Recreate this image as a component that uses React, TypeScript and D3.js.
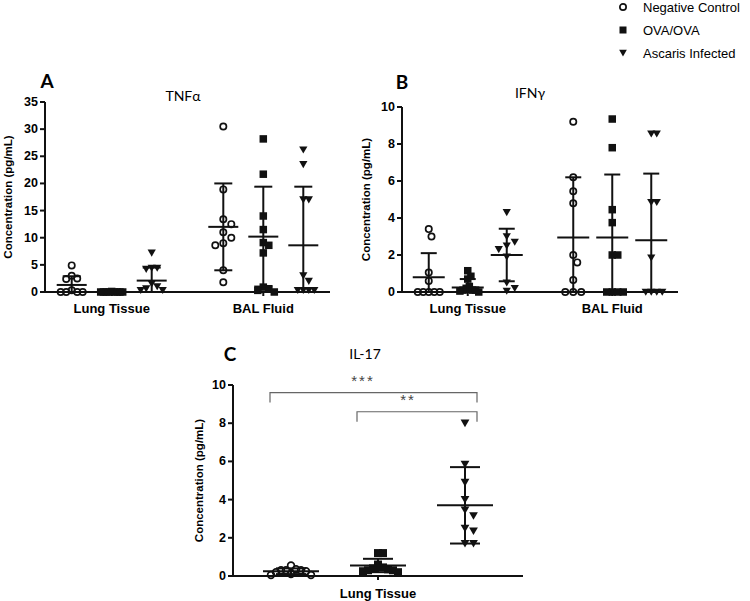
import React from "react";
import * as d3 from "d3";

// groups and categories
const groups = ["Negative Control", "OVA/OVA", "Ascaris Infected"];
const tissues = ["Lung Tissue", "BAL Fluid"];

// TNFα (pg/mL)
const tnfLungNC = [4.9, 3.0, 2.5, 2.4, 0.3, 0, 0, 0, 0];
const tnfLungOVA = [0.1, 0, 0, 0, 0, 0, 0, 0, 0];
const tnfLungAsc = [7.2, 4.4, 4.4, 4.2, 1.5, 1.0, 0.6, 0.3, 0.3];
const tnfBalNC = [30.5, 18.9, 13.4, 12.5, 11.0, 10.0, 9.0, 8.6, 4.0, 1.8];
const tnfBalOVA = [28.2, 21.7, 14.0, 11.5, 9.1, 8.6, 7.2, 0.9, 0.6, 0.3, 0];
const tnfBalAsc = [26.2, 23.5, 17.0, 17.0, 3.0, 2.0, 0.3, 0.3, 0.3, 0.3];
const tnfMean = [1.3, 0, 2.1, 12.0, 10.2, 8.6];
const tnfSD = [1.6, 0, 2.4, 8.0, 9.2, 10.8];

// IFNγ
const ifnLungNC = [3.4, 3.0, 1.05, 0.6, 0, 0, 0, 0, 0];
const ifnLungOVA = [1.15, 0.85, 0.7, 0.3, 0.2, 0.1, 0.1, 0.1, 0.05, 0];
const ifnLungAsc = [4.3, 3.0, 2.7, 2.5, 2.3, 1.9, 0.5, 0.2, 0.05];
const ifnBalNC = [9.2, 6.2, 5.45, 4.8, 2.0, 1.6, 0.65, 0, 0, 0];
const ifnBalOVA = [9.35, 7.8, 4.45, 3.75, 2.0, 2.0, 0, 0, 0, 0];
const ifnBalAsc = [8.55, 8.55, 4.85, 4.85, 1.85, 0, 0, 0, 0];
const ifnMean = [0.8, 0.25, 2.0, 2.95, 2.95, 2.8];
const ifnSD = [1.3, 0.45, 1.42, 3.25, 3.4, 3.6];

// IL-17
const il17NC = [0.55, 0.35, 0.3, 0.3, 0.3, 0.25, 0.2, 0.1, 0.05, 0.05];
const il17OVA = [1.2, 1.2, 0.6, 0.45, 0.4, 0.35, 0.3, 0.3, 0.25, 0.2];
const il17Asc = [8.0, 5.85, 4.9, 4.0, 3.45, 3.15, 2.5, 2.35, 1.7, 1.7];
const il17Mean = [0.25, 0.55, 3.7];
const il17SD = [0.15, 0.35, 2.0];

const FONT = "'Liberation Sans', Arial, sans-serif";
const TITLE_FONT = "Lato, 'Open Sans', sans-serif";

type Series = { tissue: string; group: number; values: number[]; mean: number; sd: number };

function build(cats: string[], vals: number[][], means: number[], sds: number[]): Series[] {
  const out: Series[] = [];
  cats.forEach((c, ci) => {
    groups.forEach((g, gi) => {
      const k = ci * 3 + gi;
      out.push({ tissue: c, group: gi, values: vals[k], mean: means[k], sd: sds[k] });
    });
  });
  return out;
}

// simple beeswarm: offsets so markers don't overlap, squeezed into +-limit
function swarm(values: number[], y: (v: number) => number, d: number, limit: number) {
  const placed: { x: number; y: number }[] = [];
  const order = values.map((_, i) => i).sort((a, b) => values[b] - values[a]);
  const offs = new Array(values.length).fill(0);
  for (const i of order) {
    const py = y(values[i]);
    for (let k = 0; k < 60; k++) {
      const off = k === 0 ? 0 : (k % 2 ? 1 : -1) * Math.ceil(k / 2) * d * 0.5;
      if (placed.every((p) => Math.hypot(p.x - off, p.y - py) >= d * 0.98)) {
        offs[i] = off;
        placed.push({ x: off, y: py });
        break;
      }
    }
  }
  const m = d3.max(offs, (o) => Math.abs(o)) || 0;
  const k = m > limit ? limit / m : 1;
  return offs.map((o) => o * k);
}

function Marker({ g, x, y, s }: { g: number; x: number; y: number; s: number }) {
  if (g === 0) return <circle cx={x} cy={y} r={s * 0.42} fill="none" stroke="#111" strokeWidth={1.7} />;
  if (g === 1) return <rect x={x - s / 2} y={y - s / 2} width={s} height={s} fill="#111" />;
  const w = s * 1.1;
  return (
    <path
      d={`M${x - w / 2},${y - s * 0.45}L${x + w / 2},${y - s * 0.45}L${x},${y + s * 0.5}Z`}
      fill="#111"
    />
  );
}

type PanelProps = {
  series: Series[];
  cats: string[];
  x0: number;
  x1: number;
  yTop: number;
  yBot: number;
  yMax: number;
  step: number;
  catPad: number;
  sub: number;
  ms: number;
  meanW: number;
  capW: number;
  spread: number;
  labelX: number;
  catY: number;
  letter: string;
  letterPos: [number, number];
  title: string;
  titlePos: [number, number];
  children?: (y: d3.ScaleLinear<number, number>, x: (c: string, g: number) => number) => React.ReactNode;
};

function Panel(p: PanelProps) {
  const y = d3.scaleLinear().domain([0, p.yMax]).range([p.yBot, p.yTop]).clamp(true);
  const cat = d3.scalePoint<string>().domain(p.cats).range([p.x0, p.x1]).padding(p.catPad);
  const subX = d3.scalePoint<number>().domain([0, 1, 2]).range([-p.sub, p.sub]);
  const xOf = (c: string, g: number) => (cat(c) as number) + (subX(g) as number);
  const ticks = d3.range(0, p.yMax + 0.001, p.step);
  return (
    <g>
      <text x={p.letterPos[0]} y={p.letterPos[1]} fontFamily={TITLE_FONT} fontWeight="bold" fontSize={19} textAnchor="middle" dominantBaseline="central">
        {p.letter}
      </text>
      <text x={p.titlePos[0]} y={p.titlePos[1]} fontFamily={TITLE_FONT} fontSize={14} textAnchor="middle" dominantBaseline="central">
        {p.title}
      </text>
      {/* y axis */}
      <line x1={p.x0} x2={p.x0} y1={p.yTop} y2={p.yBot} stroke="#111" strokeWidth={2} />
      {ticks.map((t) => (
        <g key={t}>
          <line x1={p.x0 - 5} x2={p.x0} y1={y(t)} y2={y(t)} stroke="#111" strokeWidth={2} />
          <text x={p.x0 - 7} y={y(t)} fontFamily={FONT} fontWeight="bold" fontSize={12.5} textAnchor="end" dominantBaseline="central">
            {t}
          </text>
        </g>
      ))}
      <text
        transform={`translate(${p.labelX},${(p.yTop + p.yBot) / 2}) rotate(-90)`}
        fontFamily={FONT}
        fontWeight="bold"
        fontSize={11.5}
        textAnchor="middle"
        dominantBaseline="central"
      >
        Concentration (pg/mL)
      </text>
      {/* x axis */}
      <line x1={p.x0 - 1} x2={p.x1} y1={p.yBot} y2={p.yBot} stroke="#111" strokeWidth={2} />
      {p.cats.map((c) => (
        <g key={c}>
          <line x1={cat(c)} x2={cat(c)} y1={p.yBot} y2={p.yBot + 4} stroke="#111" strokeWidth={2} />
          <text x={cat(c)} y={p.catY} fontFamily={FONT} fontWeight="bold" fontSize={13} textAnchor="middle" dominantBaseline="central">
            {c}
          </text>
        </g>
      ))}
      {/* points */}
      {p.series.map((s, si) => {
        const cx = xOf(s.tissue, s.group);
        const offs = swarm(s.values, y, p.ms + 0.5, p.spread);
        return (
          <g key={si}>
            {s.values.map((v, i) => (
              <Marker key={i} g={s.group} x={cx + offs[i]} y={y(v)} s={p.ms} />
            ))}
          </g>
        );
      })}
      {/* mean ± SD */}
      {p.series.map((s, si) => {
        const cx = xOf(s.tissue, s.group);
        const hi = s.mean + s.sd;
        const lo = s.mean - s.sd;
        return (
          <g key={"m" + si} stroke="#111" strokeWidth={2}>
            <line x1={cx - p.meanW / 2} x2={cx + p.meanW / 2} y1={y(s.mean)} y2={y(s.mean)} />
            {s.sd > 0 && (
              <>
                <line x1={cx} x2={cx} y1={y(lo)} y2={y(hi)} />
                <line x1={cx - p.capW / 2} x2={cx + p.capW / 2} y1={y(hi)} y2={y(hi)} />
                {lo > 0 && <line x1={cx - p.capW / 2} x2={cx + p.capW / 2} y1={y(lo)} y2={y(lo)} />}
              </>
            )}
          </g>
        );
      })}
      {p.children && p.children(y, xOf)}
    </g>
  );
}

function Legend() {
  const rows = [7, 30, 53];
  return (
    <g>
      {groups.map((g, i) => (
        <g key={g}>
          <Marker g={i} x={623} y={rows[i]} s={i === 0 ? 7.5 : 7} />
          <text x={643} y={rows[i]} fontFamily={FONT} fontSize={13} dominantBaseline="central">
            {g}
          </text>
        </g>
      ))}
    </g>
  );
}

export default function App() {
  const tnf = build(tissues, [tnfLungNC, tnfLungOVA, tnfLungAsc, tnfBalNC, tnfBalOVA, tnfBalAsc], tnfMean, tnfSD);
  const ifn = build(tissues, [ifnLungNC, ifnLungOVA, ifnLungAsc, ifnBalNC, ifnBalOVA, ifnBalAsc], ifnMean, ifnSD);
  const il17 = build(["Lung Tissue"], [il17NC, il17OVA, il17Asc], il17Mean, il17SD);
  return (
    <svg width={750} height={601} style={{ position: "absolute", left: 0, top: 0, background: "#fff" }}>
      <rect width={750} height={601} fill="#fff" />
      <Legend />
      <Panel
        series={tnf} cats={tissues} x0={45} x1={330} yTop={102} yBot={292} yMax={35} step={5}
        catPad={0.44} sub={40} ms={7.5} meanW={30} capW={18} spread={11} labelX={8} catY={308}
        letter="A" letterPos={[47, 80]} title="TNFα" titlePos={[183, 95]}
      />
      <Panel
        series={ifn} cats={tissues} x0={402} x1={678} yTop={107} yBot={292} yMax={10} step={2}
        catPad={0.455} sub={39} ms={7.5} meanW={32} capW={16} spread={11} labelX={366} catY={308}
        letter="B" letterPos={[402, 81]} title="IFNγ" titlePos={[530, 92]}
      />
      <Panel
        series={il17} cats={["Lung Tissue"]} x0={233} x1={523} yTop={385} yBot={576} yMax={10} step={2}
        catPad={0.5} sub={87} ms={8} meanW={56} capW={30} spread={20} labelX={199} catY={593}
        letter="C" letterPos={[230, 353]} title="IL-17" titlePos={[365, 353]}
      >
        {(y, xOf) => {
          const brackets = [
            { from: 0, to: 2, level: 9.6, label: "***", lx: 363 },
            { from: 1, to: 2, level: 8.6, label: "**", lx: 408 },
          ];
          return brackets.map((b) => {
            const xa = xOf("Lung Tissue", b.from) - 21;
            const xb = xOf("Lung Tissue", b.to) + 12;
            const yy = y(b.level);
            const drop = y(b.level - 0.52);
            return (
              <g key={b.label}>
                <path d={`M${xa},${drop}V${yy}H${xb}V${drop}`} fill="none" stroke="#666" strokeWidth={1.2} />
                <text x={b.lx} y={yy - 12} fontFamily={FONT} fontSize={15} letterSpacing={2} fill="#444" textAnchor="middle" dominantBaseline="central">
                  {b.label}
                </text>
              </g>
            );
          });
        }}
      </Panel>
    </svg>
  );
}
